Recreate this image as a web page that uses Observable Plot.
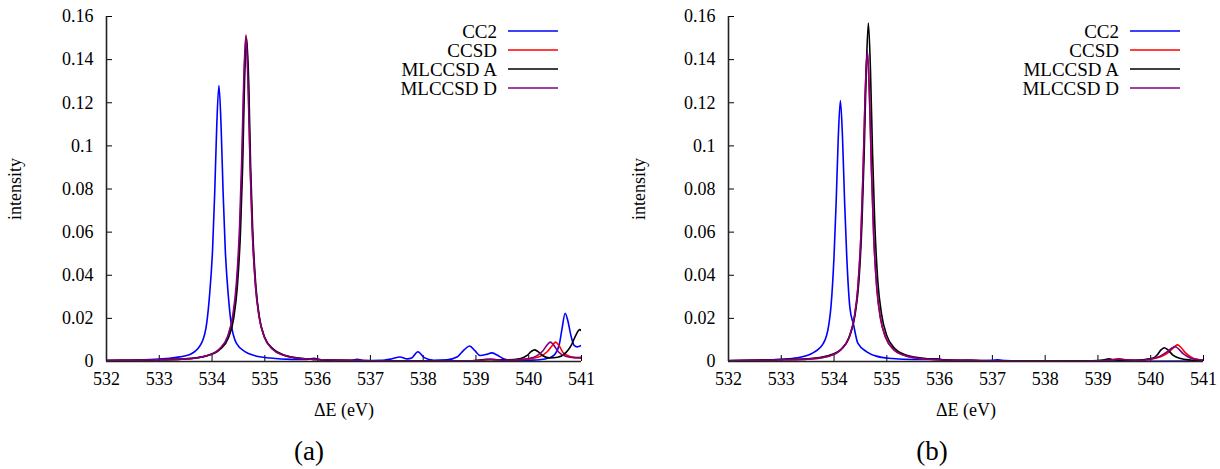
<!DOCTYPE html>
<html><head><meta charset="utf-8">
<script src="https://cdn.jsdelivr.net/npm/d3@7"></script>
<script src="https://cdn.jsdelivr.net/npm/@observablehq/plot@0.6"></script>
<style>
body{margin:0;background:#fff;font-family:"Liberation Serif","Times New Roman","DejaVu Serif",serif;}
#wrap{position:relative;width:1220px;height:469px;overflow:hidden;}
.panel{position:absolute;top:0;width:610px;height:469px;}
.cap{position:absolute;top:436px;font-size:27px;transform:translateX(-50%);white-space:nowrap;}
.legend{position:absolute;top:0;left:0;}
svg text{font-family:"Liberation Serif","Times New Roman","DejaVu Serif",serif !important;}
</style></head><body>
<div id="wrap"></div>
<script>
const seriesNames = ["CC2", "CCSD", "MLCCSD A", "MLCCSD D"];
const seriesColors = ["#0000ff", "#ff0000", "#000000", "#800080"];
const xTicks = [532, 533, 534, 535, 536, 537, 538, 539, 540, 541];
const yTicks = [0, 0.02, 0.04, 0.06, 0.08, 0.1, 0.12, 0.14, 0.16];
const panelLabels = ["(a)", "(b)"];
const xLabel = "ΔE (eV)";
const yLabel = "intensity";

// ---- panel (a) ----
const a_CC2 = [[532,0.0004],[532.5,0.0006],[533,0.0011],[533.3,0.0018],[533.6,0.0035],[533.8,0.0085],[533.9,0.018],[533.95,0.030],[534.01,0.052],[534.05,0.078],[534.09,0.110],[534.13,0.128],[534.17,0.110],[534.21,0.078],[534.25,0.052],[534.31,0.030],[534.36,0.018],[534.46,0.0085],[534.63,0.0045],[534.8,0.0028],[535.1,0.0016],[535.5,0.0010],[535.8,0.0010],[535.93,0.0015],[536.05,0.0008],[536.3,0.0004],[536.6,0.0004],[536.75,0.0010],[536.9,0.0004],[537.2,0.0005],[537.4,0.0012],[537.56,0.0021],[537.7,0.0012],[537.78,0.0016],[537.9,0.0045],[538.02,0.0018],[538.2,0.0006],[538.45,0.0008],[538.65,0.0022],[538.78,0.0055],[538.88,0.0072],[538.98,0.0050],[539.08,0.0028],[539.2,0.0033],[539.3,0.0040],[539.4,0.0030],[539.55,0.0010],[539.8,0.0004],[540,0.0006],[540.2,0.0008],[540.4,0.0018],[540.5,0.0035],[540.58,0.008],[540.63,0.015],[540.69,0.0224],[540.74,0.019],[540.8,0.012],[540.86,0.0075],[540.92,0.0068],[541,0.0075]];
const a_CCSD = [[532,0.0004],[532.5,0.0006],[533,0.0008],[533.5,0.0012],[533.9,0.0027],[534.15,0.006],[534.3,0.0115],[534.4,0.021],[534.47,0.036],[534.53,0.062],[534.57,0.092],[534.605,0.130],[534.645,0.1515],[534.685,0.130],[534.72,0.092],[534.76,0.062],[534.82,0.036],[534.89,0.021],[534.99,0.0115],[535.15,0.0058],[535.35,0.003],[535.65,0.0015],[536,0.0009],[536.5,0.0005],[537,0.0003],[538,0.0002],[538.8,0.0003],[539.1,0.0006],[539.3,0.0010],[539.5,0.0006],[539.8,0.0008],[540,0.0012],[540.2,0.0022],[540.35,0.0045],[540.45,0.0075],[540.51,0.0090],[540.57,0.0075],[540.65,0.0042],[540.8,0.0022],[541,0.0015]];
const a_MLCCSD_A = [[532,0.0004],[532.5,0.0006],[533,0.0008],[533.5,0.0012],[533.9,0.0026],[534.16,0.0058],[534.31,0.011],[534.41,0.020],[534.48,0.035],[534.54,0.061],[534.58,0.091],[534.615,0.129],[534.655,0.150],[534.695,0.129],[534.73,0.091],[534.77,0.061],[534.83,0.035],[534.9,0.020],[535,0.011],[535.16,0.0058],[535.36,0.003],[535.66,0.0015],[536,0.0009],[536.5,0.0005],[537,0.0003],[538,0.0002],[538.8,0.0003],[539.05,0.0006],[539.2,0.0010],[539.35,0.0008],[539.6,0.0008],[539.85,0.0014],[539.97,0.0028],[540.05,0.0047],[540.11,0.0054],[540.17,0.0047],[540.26,0.0028],[540.4,0.0017],[540.55,0.0020],[540.7,0.0040],[540.8,0.0072],[540.88,0.0115],[540.94,0.0143],[540.97,0.0148],[541,0.0142]];
const a_MLCCSD_D = [[532,0.0004],[532.5,0.0006],[533,0.0008],[533.5,0.0012],[533.9,0.0027],[534.14,0.0058],[534.29,0.0114],[534.39,0.021],[534.46,0.036],[534.52,0.062],[534.56,0.092],[534.6,0.130],[534.64,0.151],[534.68,0.130],[534.72,0.092],[534.76,0.062],[534.82,0.036],[534.89,0.021],[534.99,0.0114],[535.14,0.0058],[535.34,0.003],[535.64,0.0015],[536,0.0009],[536.5,0.0005],[537,0.0003],[538,0.0002],[538.8,0.0003],[539.1,0.0006],[539.3,0.0010],[539.5,0.0006],[539.8,0.0008],[540,0.0014],[540.15,0.0026],[540.27,0.0050],[540.35,0.0077],[540.41,0.0090],[540.47,0.0077],[540.56,0.0045],[540.7,0.0024],[540.85,0.0018],[541,0.0019]];

// ---- panel (b) ----
const b_CC2 = [[532,0.0003],[532.5,0.0005],[533,0.0010],[533.3,0.0017],[533.6,0.0040],[533.8,0.0085],[533.9,0.017],[533.94,0.025],[534,0.049],[534.04,0.074],[534.08,0.104],[534.12,0.121],[534.16,0.104],[534.2,0.074],[534.24,0.049],[534.3,0.025],[534.37,0.017],[534.45,0.0085],[534.62,0.0045],[534.8,0.0025],[535.1,0.0014],[535.5,0.0009],[535.8,0.0010],[535.95,0.0013],[536.1,0.0006],[536.4,0.0003],[536.6,0.0005],[536.8,0.0003],[537,0.0005],[537.1,0.0008],[537.25,0.0004],[537.6,0.0002],[538.5,0.0001],[541,0.0002]];
const b_CCSD = [[532,0.0003],[532.5,0.0005],[533,0.0008],[533.5,0.0011],[533.9,0.0025],[534.13,0.0055],[534.28,0.011],[534.38,0.020],[534.45,0.034],[534.51,0.059],[534.55,0.088],[534.59,0.124],[534.63,0.144],[534.67,0.124],[534.71,0.088],[534.75,0.059],[534.81,0.034],[534.88,0.020],[534.98,0.011],[535.13,0.0055],[535.33,0.0029],[535.63,0.0014],[536,0.0008],[536.5,0.0005],[537,0.0003],[538,0.0002],[539,0.0003],[539.25,0.0007],[539.4,0.0012],[539.55,0.0007],[539.8,0.0006],[540,0.0011],[540.2,0.0023],[540.35,0.0045],[540.45,0.0068],[540.51,0.0077],[540.57,0.0066],[540.66,0.0040],[540.8,0.0015],[540.9,0.0009],[541,0.0006]];
const b_MLCCSD_A = [[532,0.0004],[532.5,0.0006],[533,0.0009],[533.5,0.0013],[533.9,0.0028],[534.15,0.0060],[534.3,0.012],[534.4,0.022],[534.47,0.037],[534.53,0.065],[534.57,0.096],[534.61,0.135],[534.65,0.157],[534.69,0.135],[534.73,0.096],[534.77,0.065],[534.83,0.037],[534.9,0.022],[535,0.012],[535.15,0.0060],[535.35,0.0031],[535.65,0.0016],[536,0.0009],[536.5,0.0005],[537,0.0003],[538,0.0002],[538.9,0.0003],[539.1,0.0007],[539.21,0.0012],[539.32,0.0007],[539.6,0.0005],[539.85,0.0008],[539.98,0.0013],[540.05,0.0016],[540.12,0.0030],[540.2,0.0055],[540.26,0.0064],[540.32,0.0055],[540.42,0.0030],[540.55,0.0015],[540.75,0.0007],[541,0.0004]];
const b_MLCCSD_D = [[532,0.0003],[532.5,0.0005],[533,0.0008],[533.5,0.0011],[533.9,0.0025],[534.13,0.0055],[534.28,0.011],[534.38,0.020],[534.45,0.034],[534.51,0.059],[534.55,0.088],[534.59,0.124],[534.63,0.144],[534.67,0.124],[534.71,0.088],[534.75,0.059],[534.81,0.034],[534.88,0.020],[534.98,0.011],[535.13,0.0055],[535.33,0.0029],[535.63,0.0014],[536,0.0008],[536.5,0.0005],[537,0.0003],[538,0.0002],[539,0.0003],[539.25,0.0007],[539.4,0.0011],[539.55,0.0007],[539.8,0.0006],[540,0.0012],[540.18,0.0025],[540.32,0.0047],[540.41,0.0064],[540.46,0.0069],[540.52,0.0060],[540.62,0.0035],[540.75,0.0016],[540.9,0.0008],[541,0.0006]];

const panels = [
  {series: [a_CC2, a_CCSD, a_MLCCSD_A, a_MLCCSD_D], left: 0, marginLeft: 106, marginRight: 29, yLabelOffset: 98, capX: 309},
  {series: [b_CC2, b_CCSD, b_MLCCSD_A, b_MLCCSD_D], left: 610, marginLeft: 118, marginRight: 17, yLabelOffset: 96, capX: 322}
];

const FONT = "'Liberation Serif', 'Times New Roman', 'DejaVu Serif', serif";
const W = 610, H = 420, MT = 16, MB = 59;
const wrap = document.getElementById("wrap");

panels.forEach((p, pi) => {
  const rows = [];
  p.series.forEach((pts, i) => pts.forEach(([e, v]) => rows.push({E: e, I: v, s: seriesNames[i]})));
  const fw = W - p.marginLeft - p.marginRight, fh = H - MT - MB;
  const chart = Plot.plot({
    width: W, height: H,
    marginLeft: p.marginLeft, marginRight: p.marginRight, marginTop: MT, marginBottom: MB,
    style: {fontFamily: FONT, fontSize: "18px", color: "#000", background: "#fff", overflow: "visible"},
    x: {domain: [532, 541]},
    y: {domain: [0, 0.16]},
    color: {domain: seriesNames, range: seriesColors},
    marks: [
      Plot.axisX(xTicks, {tickSize: 0, tickPadding: 11, fontSize: 18, tickFormat: d => String(d),
        label: xLabel, labelAnchor: "center", labelArrow: "none", labelOffset: 54}),
      Plot.axisY(yTicks, {tickSize: 0, tickPadding: 13, fontSize: 18, tickFormat: d3.format("~g"),
        label: yLabel, labelAnchor: "center", labelArrow: "none", labelOffset: p.yLabelOffset}),
      Plot.tickX(xTicks, {x: d => d, insetTop: fh - 6, stroke: "#000", strokeWidth: 1}),
      Plot.tickY(yTicks, {y: d => d, insetRight: fw - 6, stroke: "#000", strokeWidth: 1}),
      Plot.line(rows, {x: "E", y: "I", z: "s", stroke: "s", strokeWidth: 1.6, curve: "monotone-x", clip: true}),
      Plot.ruleX([532], {stroke: "#222", strokeWidth: 1.6}),
      Plot.ruleY([0], {stroke: "#222", strokeWidth: 1.6})
    ]
  });
  const div = document.createElement("div");
  div.className = "panel";
  div.style.left = p.left + "px";
  div.appendChild(chart);

  // legend inside the frame, top-right
  const frameRight = W - p.marginRight;
  const svg = d3.create("svg").attr("class", "legend").attr("width", W).attr("height", 120);
  seriesNames.forEach((name, i) => {
    const y = 31 + i * 19;
    svg.append("text").attr("x", frameRight - 84).attr("y", y).attr("dy", "0.35em")
      .attr("text-anchor", "end").style("font-family", FONT).attr("font-size", 19).text(name);
    svg.append("line").attr("x1", frameRight - 73).attr("x2", frameRight - 23)
      .attr("y1", y).attr("y2", y).attr("stroke", seriesColors[i]).attr("stroke-width", 1.6);
  });
  div.appendChild(svg.node());

  const cap = document.createElement("div");
  cap.className = "cap";
  cap.style.left = p.capX + "px";
  cap.textContent = panelLabels[pi];
  div.appendChild(cap);
  wrap.appendChild(div);
});
</script>
</body></html>
